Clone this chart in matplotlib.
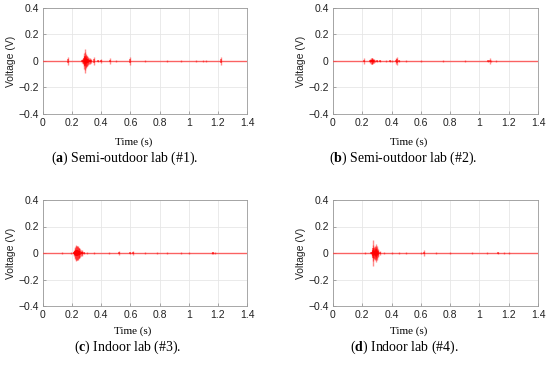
"""Four-panel voltage recordings (semi-outdoor and indoor labs)."""
import matplotlib
matplotlib.use("Agg")
import matplotlib.pyplot as plt

plt.rcParams["font.family"] = ["Liberation Sans", "DejaVu Sans"]
plt.rcParams["mathtext.fontset"] = "custom"
plt.rcParams["mathtext.rm"] = "Liberation Serif"
plt.rcParams["mathtext.bf"] = "Liberation Serif:bold"

# spike times (s) and peak amplitudes (V)
t_a = [0.17, 0.27, 0.275, 0.28, 0.283, 0.286, 0.289, 0.292, 0.295, 0.298,
       0.301, 0.304, 0.307, 0.31, 0.315, 0.32, 0.325, 0.33, 0.35, 0.38, 0.40,
       0.46, 0.50, 0.60, 0.70, 0.85, 0.95, 1.05, 1.10, 1.12, 1.22]
v_a = [0.03, 0.015, 0.02, 0.035, 0.06, 0.09, 0.07, 0.05, 0.045, 0.04,
       0.035, 0.035, 0.03, 0.025, 0.02, 0.02, 0.015, 0.012, 0.03, 0.01, 0.012,
       0.02, 0.008, 0.03, 0.005, 0.005, 0.005, 0.006, 0.006, 0.008, 0.03]

t_b = [0.21, 0.25, 0.255, 0.26, 0.263, 0.266, 0.269, 0.272, 0.275, 0.28,
       0.29, 0.30, 0.32, 0.36, 0.39, 0.40, 0.43, 0.44, 0.45, 0.50, 0.60,
       0.75, 0.90, 1.06, 1.07, 1.08, 1.11]
v_b = [0.025, 0.008, 0.012, 0.02, 0.025, 0.02, 0.02, 0.018, 0.015, 0.012,
       0.008, 0.01, 0.01, 0.006, 0.01, 0.008, 0.02, 0.03, 0.01, 0.006, 0.004,
       0.004, 0.004, 0.01, 0.02, 0.008, 0.005]

t_c = [0.13, 0.19, 0.21, 0.215, 0.22, 0.223, 0.226, 0.229, 0.232, 0.235,
       0.238, 0.241, 0.244, 0.247, 0.25, 0.255, 0.26, 0.265, 0.27, 0.28,
       0.30, 0.35, 0.45, 0.52, 0.60, 0.62, 0.70, 0.78, 0.85, 0.95, 1.00,
       1.16, 1.17, 1.18]
v_c = [0.005, 0.008, 0.015, 0.025, 0.035, 0.045, 0.055, 0.06, 0.055, 0.05,
       0.05, 0.045, 0.04, 0.035, 0.035, 0.03, 0.025, 0.02, 0.015, 0.01,
       0.008, 0.006, 0.006, 0.012, 0.01, 0.015, 0.008, 0.006, 0.006, 0.005,
       0.005, 0.008, 0.01, 0.008]

t_d = [0.22, 0.26, 0.265, 0.27, 0.273, 0.276, 0.279, 0.282, 0.285, 0.288,
       0.291, 0.294, 0.297, 0.30, 0.303, 0.306, 0.31, 0.32, 0.35, 0.40, 0.45,
       0.50, 0.60, 0.62, 0.70, 0.80, 0.95, 1.05, 1.13, 1.17, 1.20]
v_d = [0.005, 0.01, 0.02, 0.04, 0.1, 0.06, 0.045, 0.04, 0.05, 0.045,
       0.04, 0.05, 0.07, 0.05, 0.04, 0.03, 0.02, 0.012, 0.008, 0.006, 0.006,
       0.005, 0.004, 0.025, 0.006, 0.005, 0.005, 0.005, 0.01, 0.006, 0.008]

letters = ["a", "b", "c", "d"]
captions = ["Semi-outdoor lab (#1).", "Semi-outdoor lab (#2).",
            "Indoor lab (#3).", "Indoor lab (#4)."]
xticks = [0, 0.2, 0.4, 0.6, 0.8, 1, 1.2, 1.4]
yticks = [-0.4, -0.2, 0, 0.2, 0.4]

W, H = 550, 368
fig = plt.figure(figsize=(W / 100, H / 100), dpi=100)

# axes boxes in pixels: left, top, right, bottom
boxes = [(43, 8, 247, 114), (333, 8, 538, 114),
         (43, 200, 247, 306), (333, 200, 538, 306)]
label_x = [134, 409, 133, 409]
label_y = [142, 142, 331, 331]
cap_x = [125, 403, 128, 404]
cap_y = [158, 158, 347, 347]
series = [(t_a, v_a), (t_b, v_b), (t_c, v_c), (t_d, v_d)]

for i, (l, t, r, b) in enumerate(boxes):
    ax = fig.add_axes([l / W, 1 - b / H, (r - l) / W, (b - t) / H])
    ts, vs = series[i]
    ax.axhline(0, color="#ff4040", lw=1.0, alpha=0.8, zorder=3)
    ax.vlines(ts, [-v for v in vs], vs, color="red", lw=1.0, alpha=0.45, zorder=3)
    ax.vlines(ts, [-v * 0.4 for v in vs], [v * 0.4 for v in vs],
              color="red", lw=1.2, alpha=0.6, zorder=3)
    ax.set_xlim(0, 1.4)
    ax.set_ylim(-0.4, 0.4)
    ax.set_xticks(xticks)
    ax.set_xticklabels(["0", "0.2", "0.4", "0.6", "0.8", "1", "1.2", "1.4"])
    ax.set_yticks(yticks)
    ax.set_yticklabels(["\u22120.4", "\u22120.2", "0", "0.2", "0.4"])
    ax.grid(True, color="#e6e6e6", lw=0.6)
    ax.set_axisbelow(True)
    ax.tick_params(direction="in", length=2.5, width=0.5, colors="#888888",
                   labelcolor="#222222", labelsize=7.5, pad=3)
    for s in ax.spines.values():
        s.set_color("#999999")
        s.set_linewidth(0.6)
    ax.set_ylabel("Voltage (V)", fontsize=7.5, color="#222222", labelpad=2)
    fig.text(label_x[i] / W, 1 - label_y[i] / H, "Time (s)",
             family="Liberation Serif", fontsize=8, ha="center", va="center")
    fig.text(cap_x[i] / W, 1 - cap_y[i] / H,
             "($\\mathbf{%s}$) %s" % (letters[i], captions[i]),
             family="Liberation Serif", fontsize=10, ha="center", va="center")

fig.savefig("out.png", dpi=100)
